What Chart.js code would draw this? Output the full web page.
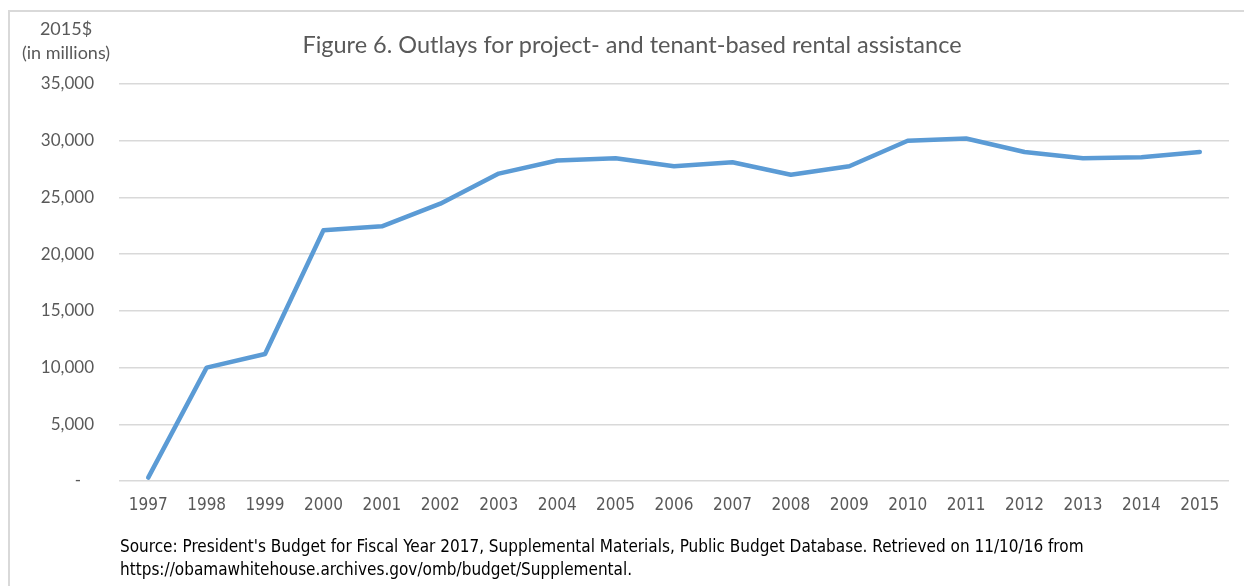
<!DOCTYPE html>
<html><head><meta charset="utf-8">
<script src="https://cdn.jsdelivr.net/npm/chart.js@4/dist/chart.umd.min.js"></script>
<style>
html,body{margin:0;padding:0;background:#fff;}
#wrap{position:relative;width:1244px;height:586px;overflow:hidden;}
#frame{position:absolute;left:8px;top:10px;width:1300px;height:700px;border:2px solid #d9d9d9;box-sizing:border-box;}
canvas{position:absolute;left:0;top:0;}
.t{position:absolute;white-space:nowrap;}
#title{left:0;width:1264px;text-align:center;top:30px;font:23.5px Lato,"Open Sans",sans-serif;color:#595959;}
#unit{left:16px;width:100px;text-align:center;top:16px;font:18px/24px Lato,"Open Sans",sans-serif;color:#595959;}
#src{left:120px;top:535px;font:17px/23px "Liberation Sans Narrow","DejaVu Sans Condensed",sans-serif;color:#000;}
</style></head>
<body><div id="wrap">
<div id="frame"></div>
<canvas id="c" width="1244" height="586"></canvas>
<div class="t" id="title">Figure 6. Outlays for project- and tenant-based rental assistance</div>
<div class="t" id="unit">2015$<br>(in millions)</div>
<div class="t" id="src">Source: President's Budget for Fiscal Year 2017, Supplemental Materials, Public Budget Database. Retrieved on 11/10/16 from<br>https://obamawhitehouse.archives.gov/omb/budget/Supplemental.</div>
</div>
<script>
const years = ["1997","1998","1999","2000","2001","2002","2003","2004","2005","2006","2007","2008","2009","2010","2011","2012","2013","2014","2015"];
const outlays = [300,10000,11200,22100,22450,24450,27100,28250,28450,27750,28100,27000,27750,30000,30200,29000,28450,28550,29000];
const yMax = 35000;
const yStep = 5000;

new Chart(document.getElementById('c'), {
  type: 'line',
  data: { labels: years, datasets: [{ data: outlays, borderColor: '#5b9bd5', borderWidth: 4.5, pointRadius: 0, tension: 0, fill: false, borderCapStyle: 'round', borderJoinStyle: 'round' }] },
  options: {
    responsive: false, animation: false,
    layout: { padding: { left: 0, right: 15, top: 84, bottom: 75 } },
    plugins: { legend: { display: false }, tooltip: { enabled: false }, title: { display: false } },
    scales: {
      x: {
        offset: true,
        grid: { display: false, drawTicks: false },
        border: { display: false },
        ticks: { color: '#595959', font: { family: 'Liberation Sans Narrow, DejaVu Sans Condensed, sans-serif', size: 17 }, padding: 14, maxRotation: 0, autoSkip: false },
        afterFit: s => { s.height = 30; }
      },
      y: {
        min: 0, max: yMax,
        grid: { color: '#d9d9d9', lineWidth: 1.5, drawTicks: false },
        border: { display: false },
        ticks: { stepSize: yStep, color: '#595959', font: { family: 'Lato, Open Sans, sans-serif', size: 17 }, padding: 25,
          callback: v => v === 0 ? '-   ' : v.toLocaleString('en-US') },
        afterFit: s => { s.width = 119; }
      }
    }
  }
});
</script>
</body></html>
